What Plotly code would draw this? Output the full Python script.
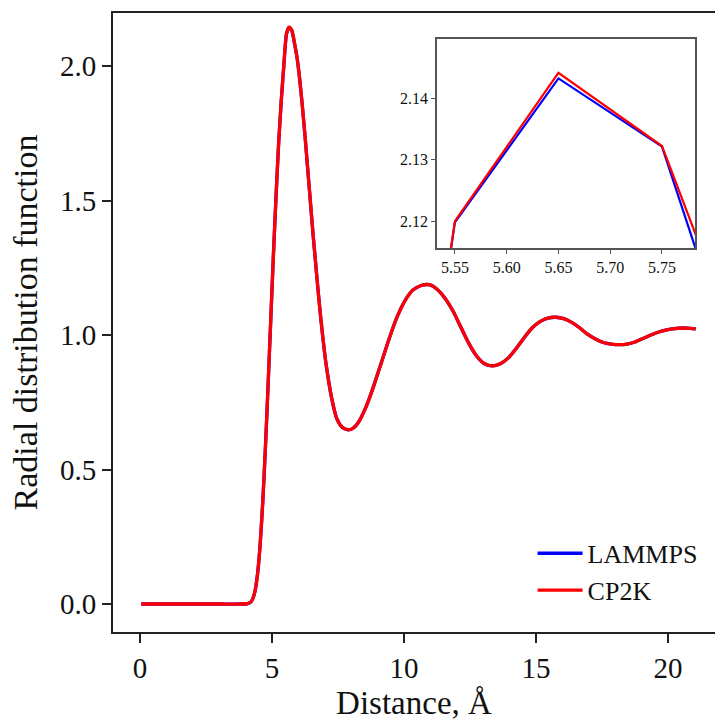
import plotly.graph_objects as go

# Bin centres (Å)
distance = [0.05, 1.05, 2.05, 3.05, 3.85, 4.05, 4.15, 4.25, 4.35, 4.45, 4.55, 4.65, 4.75,
            4.85, 4.95, 5.05, 5.15, 5.25, 5.35, 5.45, 5.55, 5.65, 5.75, 5.85, 5.95,
            6.05, 6.15, 6.25, 6.35, 6.45, 6.55, 6.65, 6.75, 6.85, 6.95, 7.05, 7.25,
            7.45, 7.65, 7.85, 8.05, 8.25, 8.55, 8.85, 9.15, 9.45, 9.75, 10.05, 10.35,
            10.65, 10.95, 11.25, 11.55, 11.85, 12.15, 12.45, 12.75, 13.05, 13.35,
            13.65, 13.95, 14.25, 14.55, 14.85, 15.15, 15.45, 15.75, 16.05, 16.35,
            16.65, 16.95, 17.25, 17.55, 17.85, 18.15, 18.45, 18.75, 19.05, 19.35,
            19.65, 19.95, 20.25, 20.55, 20.85, 21.05]

lammps = [0.0, 0.0, 0.0, 0.0, 0.0, 0.001, 0.004, 0.015, 0.045, 0.11, 0.22, 0.38, 0.58,
          0.81, 1.05, 1.29, 1.51, 1.71, 1.87, 2.005, 2.1198, 2.1432, 2.1321, 2.084, 2.03,
          1.95, 1.85, 1.74, 1.62, 1.50, 1.38, 1.27, 1.16, 1.06, 0.97, 0.89, 0.77,
          0.69, 0.658, 0.648, 0.652, 0.672, 0.73, 0.81, 0.90, 0.99, 1.07, 1.13, 1.168,
          1.184, 1.187, 1.17, 1.137, 1.09, 1.03, 0.97, 0.922, 0.893, 0.885,
          0.893, 0.915, 0.95, 0.99, 1.026, 1.05, 1.063, 1.066, 1.061, 1.047,
          1.027, 1.003, 0.985, 0.972, 0.966, 0.964, 0.966, 0.974, 0.987, 1.0,
          1.011, 1.019, 1.024, 1.026, 1.025, 1.023]

cp2k = [0.0, 0.0, 0.0, 0.0, 0.0, 0.001, 0.004, 0.015, 0.045, 0.11, 0.22, 0.38, 0.58,
        0.81, 1.05, 1.29, 1.51, 1.71, 1.87, 2.006, 2.1200, 2.1441, 2.1322, 2.088, 2.03,
        1.95, 1.85, 1.74, 1.62, 1.50, 1.38, 1.27, 1.16, 1.06, 0.97, 0.89, 0.77,
        0.69, 0.658, 0.648, 0.652, 0.672, 0.73, 0.81, 0.90, 0.99, 1.07, 1.13, 1.168,
        1.184, 1.187, 1.17, 1.137, 1.09, 1.03, 0.97, 0.922, 0.893, 0.885,
        0.893, 0.915, 0.95, 0.99, 1.026, 1.05, 1.063, 1.066, 1.061, 1.047,
        1.027, 1.003, 0.985, 0.972, 0.966, 0.964, 0.966, 0.974, 0.987, 1.0,
        1.011, 1.019, 1.024, 1.026, 1.025, 1.023]

main_xticks = [0, 5, 10, 15, 20]
main_yticks = [0.0, 0.5, 1.0, 1.5, 2.0]
inset_xticks = [5.55, 5.60, 5.65, 5.70, 5.75]
inset_yticks = [2.12, 2.13, 2.14]

FONT = "Liberation Serif, Times New Roman, serif"
BLUE = "#0000ff"
RED = "#ff0000"

fig = go.Figure()
fig.add_trace(go.Scatter(x=distance, y=lammps, name="LAMMPS", mode="lines",
                         line=dict(color=BLUE, width=3.3, shape="spline", smoothing=0.6)))
fig.add_trace(go.Scatter(x=distance, y=cp2k, name="CP2K", mode="lines",
                         line=dict(color=RED, width=3.3, shape="spline", smoothing=0.6)))
# inset
fig.add_trace(go.Scatter(x=distance, y=lammps, mode="lines", showlegend=False,
                         line=dict(color=BLUE, width=2.2), xaxis="x2", yaxis="y2"))
fig.add_trace(go.Scatter(x=distance, y=cp2k, mode="lines", showlegend=False,
                         line=dict(color=RED, width=2.2), xaxis="x2", yaxis="y2"))

axis_common = dict(showgrid=False, zeroline=False, ticks="outside",
                   tickcolor="#222", linecolor="#222", showline=True)

fig.update_layout(
    width=715, height=721,
    margin=dict(l=113, r=0, t=13, b=89),
    paper_bgcolor="white", plot_bgcolor="white",
    font=dict(family=FONT, color="#111"),
    xaxis=dict(**axis_common, range=[-1.023, 21.78], tickvals=main_xticks,
               ticklen=9, tickwidth=1.6, linewidth=2, mirror=True,
               tickfont=dict(size=29),
               title=dict(text="Distance, Å", font=dict(size=33), standoff=10)),
    yaxis=dict(**axis_common, range=[-0.104, 2.197], tickvals=main_yticks,
               tickformat=".1f", ticklen=9, tickwidth=1.6, linewidth=2,
               tickfont=dict(size=29),
               title=dict(text="Radial distribution function", font=dict(size=34), standoff=12)),
    xaxis2=dict(showgrid=False, zeroline=False, ticks="outside", showline=True,
                mirror=True, linecolor="#555", linewidth=1.5, tickcolor="#555",
                ticklen=4, tickwidth=1.2,
                domain=[0.538, 0.967], anchor="y2", range=[5.5326, 5.782],
                tickvals=inset_xticks, tickformat=".2f", tickfont=dict(size=16)),
    yaxis2=dict(showgrid=False, zeroline=False, ticks="outside", showline=True,
                mirror=True, linecolor="#555", linewidth=1.5, tickcolor="#555",
                ticklen=4, tickwidth=1.2,
                domain=[0.620, 0.958], anchor="x2", range=[2.1156, 2.1496],
                tickvals=inset_yticks, tickformat=".2f", tickfont=dict(size=16)),
    legend=dict(x=0.697, y=0.165, xanchor="left", yanchor="top",
                bgcolor="rgba(0,0,0,0)", font=dict(size=26), itemwidth=45,
                tracegroupgap=0),
    showlegend=True,
)

fig.write_html("out.html")
